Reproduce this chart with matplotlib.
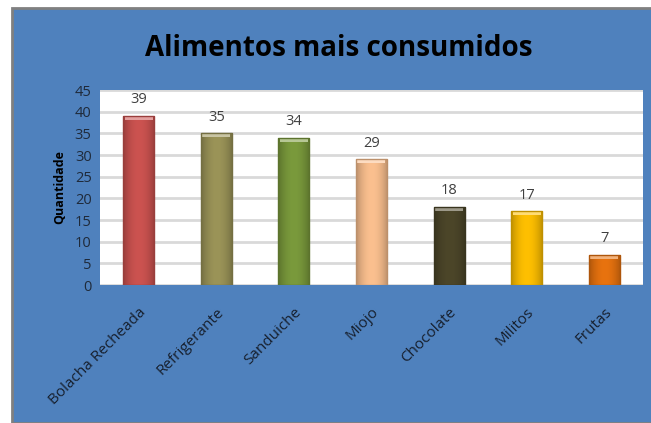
import matplotlib.pyplot as plt
import matplotlib.colors as mcolors
from matplotlib.patches import Rectangle
import numpy as np

alimentos = ['Bolacha Recheada', 'Refrigerante', 'Sanduiche', 'Miojo',
             'Chocolate', 'Militos', 'Frutas']
quantidade = [39, 35, 34, 29, 18, 17, 7]
cores = ['#CC5350', '#9B9458', '#7A9A3C', '#FBC08F', '#4C4629', '#FFC000', '#E8730F']

plt.rcParams['font.family'] = ['Open Sans', 'DejaVu Sans']

fig = plt.figure(figsize=(6.51, 4.23), dpi=100, facecolor='white')
# fundo azul do grafico
fig.patches.append(Rectangle((12 / 651, 0), 1, (423 - 8) / 423, transform=fig.transFigure,
                             facecolor='#4F81BD', edgecolor='#808080', linewidth=2, zorder=-1))

ax = fig.add_axes([0.1536, 0.3262, 0.834, 0.461])
ax.set_facecolor('white')

x = np.arange(len(alimentos))
bars = ax.bar(x, quantidade, width=0.4, color=cores, zorder=3)

# efeito de relevo nas barras
for b, c in zip(bars, cores):
    rgb = np.array(mcolors.to_rgb(c))
    t = np.linspace(-1, 1, 60)
    shade = 1 - 0.25 * np.abs(t) ** 2
    grad = np.clip(rgb[None, :] * shade[:, None], 0, 1)[None, :, :]
    x0, w, h = b.get_x(), b.get_width(), b.get_height()
    im = ax.imshow(grad, extent=[x0, x0 + w, 0, h], aspect='auto', zorder=4)
    im.set_clip_path(b)
    light = np.clip(rgb + (1 - rgb) * 0.45, 0, 1)
    ax.bar(x0 + w / 2, 0.9, bottom=h - 0.9, width=w * 0.9, color=light, zorder=5)
    ax.bar(x0 + w / 2, h, width=w, facecolor='none',
           edgecolor=np.clip(rgb * 0.75, 0, 1), linewidth=1, zorder=6)

for xi, v in zip(x, quantidade):
    ax.text(xi, v + 2, str(v), ha='center', va='bottom', fontsize=10.5, color='#404040', zorder=7)

ax.set_xlim(-0.5, len(alimentos) - 0.5)
ax.set_ylim(0, 45)
ax.set_yticks(range(0, 46, 5))
ax.yaxis.grid(True, color='#D9D9D9', linewidth=2, zorder=0)
ax.set_axisbelow(True)
ax.set_xticks(x)
ax.set_xticklabels(alimentos, rotation=45, ha='right', rotation_mode='anchor',
                   fontsize=11, color='#17202e')
ax.tick_params(axis='y', labelsize=10.5, labelcolor='#1f2a3a', length=0, pad=6)
ax.tick_params(axis='x', length=0, pad=14)
for s in ax.spines.values():
    s.set_visible(False)

ax.set_ylabel('Quantidade', fontsize=9, fontweight='bold', color='black', labelpad=6)
fig.text(0.52, 0.885, 'Alimentos mais consumidos', ha='center', va='center',
         fontsize=20, fontweight='bold', color='black')

fig.savefig('out.png', dpi=100, facecolor='white')
